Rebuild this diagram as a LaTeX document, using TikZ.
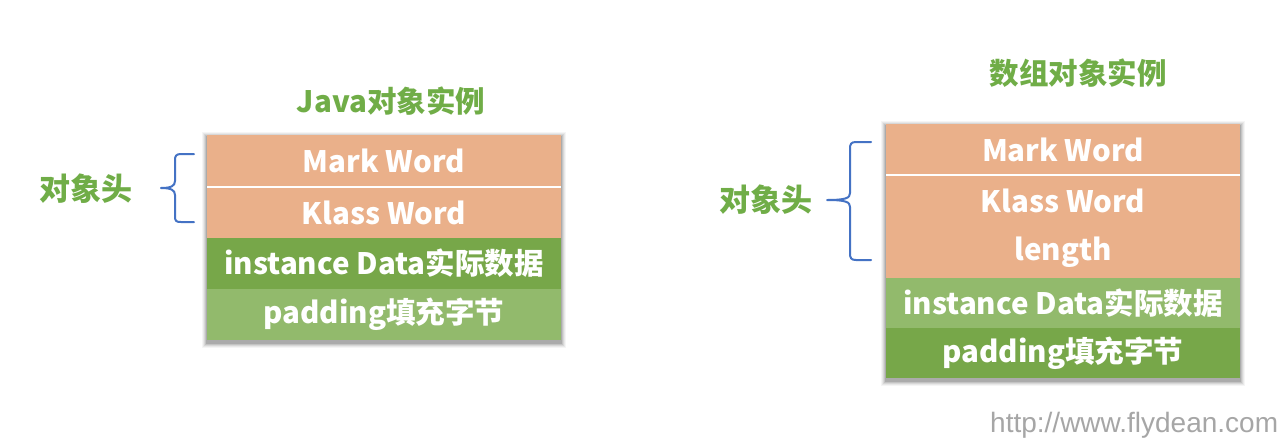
\documentclass[tikz,border=0pt]{standalone}
\usepackage{fontspec}
\setmainfont{Noto Sans CJK SC}
\newfontfamily\wmfont{Liberation Sans}
\definecolor{rowor}{HTML}{EAB08A}
\definecolor{rowdg}{HTML}{77A749}
\definecolor{rowlg}{HTML}{92BA6C}
\definecolor{ttlgreen}{HTML}{70AD47}
\definecolor{braceblue}{HTML}{4472C4}
\definecolor{wmgray}{HTML}{A6A6A6}
\tikzset{
  cell/.style={minimum width=354pt, minimum height=51pt, inner sep=0pt, outer sep=0pt,
    text=white, font=\fontsize{29.5}{29.5}\selectfont\bfseries, anchor=north west},
  ttl/.style={text=ttlgreen, font=\fontsize{29.5}{29.5}\selectfont\bfseries, inner sep=0pt},
  lbl/.style={text=ttlgreen, font=\fontsize{31}{31}\selectfont\bfseries, inner sep=0pt},
  brc/.style={draw=braceblue, line width=2pt, line cap=round, line join=round},
  sep/.style={draw=white, line width=2.2pt},
}
\begin{document}
\begin{tikzpicture}[x=1pt,y=-1pt]
\useasboundingbox (0,0) rectangle (1280,445);
\fill[white] (0,0) rectangle (1280,445);
% shadows
\foreach \d/\o in {5/0.04,4/0.05,3/0.07,2/0.09,1/0.12}{
  \fill[black,opacity=\o] (207-\d,135-\d+2) rectangle (561+\d,340+\d+3);
  \fill[black,opacity=\o] (886-\d,124-\d+2) rectangle (1240+\d,378+\d+3);
}
% left box
\node[cell, fill=rowor, minimum height=52pt] (lmark) at (207,135) {Mark Word};
\node[cell, fill=rowor] (lklass) at (lmark.south west) {Klass Word};
\node[cell, fill=rowdg] (linst) at (lklass.south west) {instance Data实际数据};
\node[cell, fill=rowlg] (lpad) at (linst.south west) {padding填充字节};
\draw[sep] (lmark.south west) -- (lmark.south east);
% right box
\node[cell, fill=rowor] (rmark) at (886,124) {Mark Word};
\node[cell, fill=rowor, minimum height=52pt] (rklass) at (rmark.south west) {Klass Word};
\node[cell, fill=rowor] (rlen) at (rklass.south west) {length};
\node[cell, fill=rowlg, minimum height=50pt] (rinst) at (rlen.south west) {instance Data实际数据};
\node[cell, fill=rowdg, minimum height=50pt] (rpad) at (rinst.south west) {padding填充字节};
\draw[sep] (rmark.south west) -- (rmark.south east);
% titles
\node[ttl] (ltitle) at (391,101) {Java对象实例};
\node[ttl] (rtitle) at (1078,73) {数组对象实例};
% labels
\node[lbl] (lhead) at (86,189) {对象头};
\node[lbl] (rhead) at (766,200) {对象头};
% braces
\coordinate (lbt) at (194,154);
\coordinate (lbb) at (194,222);
\coordinate (lbtip) at (161,188);
\draw[brc] (lbt) -- (181,154) .. controls (176,154) and (175,156) .. (175,160)
  -- (175,181) .. controls (175,186) and (171,188) .. (lbtip)
  .. controls (171,188) and (175,190) .. (175,195)
  -- (175,216) .. controls (175,221) and (176,222) .. (181,222) -- (lbb);
\coordinate (rbt) at (871,142);
\coordinate (rbb) at (871,260);
\coordinate (rbtip) at (827,200);
\draw[brc] (rbt) -- (856,142) .. controls (851,142) and (850,144) .. (850,149)
  -- (850,193) .. controls (850,198) and (846,200) .. (rbtip)
  .. controls (846,200) and (850,202) .. (850,207)
  -- (850,253) .. controls (850,258) and (851,260) .. (856,260) -- (rbb);
% watermark
\node[text=wmgray, font=\wmfont\fontsize{28}{28}\selectfont, inner sep=0pt, anchor=base west] (wm) at (990,432) {http://www.flydean.com};
\end{tikzpicture}
\end{document}
